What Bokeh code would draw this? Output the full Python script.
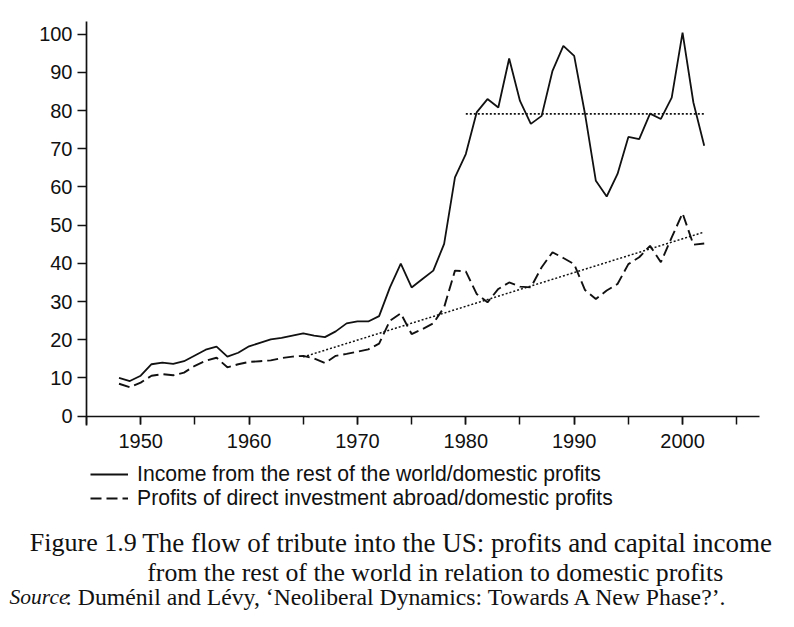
from bokeh.plotting import figure
from bokeh.models import Legend, LegendItem, Label, SingleIntervalTicker, Range1d
from bokeh.embed import file_html
from bokeh.resources import INLINE

# ---- data ----
years = list(range(1948, 2003))
income_ratio = [10.0, 9.2, 10.6, 13.6, 14.0, 13.7, 14.4, 15.9, 17.4, 18.2,
                15.6, 16.6, 18.3, 19.2, 20.1, 20.5, 21.1, 21.7, 21.1, 20.7,
                22.2, 24.3, 24.8, 24.8, 26.2, 33.7, 39.9, 33.7, 35.9, 38.1,
                45.1, 62.5, 68.6, 79.5, 83.0, 80.8, 93.6, 82.5, 76.5, 78.6,
                90.4, 96.9, 94.3, 79.1, 61.6, 57.5, 63.4, 73.1, 72.5, 79.2,
                77.8, 83.4, 100.4, 82.1, 70.8]
fdi_ratio = [8.5, 7.6, 8.8, 10.6, 11.0, 10.7, 11.4, 13.2, 14.5, 15.3,
             12.8, 13.6, 14.2, 14.4, 14.6, 15.2, 15.6, 15.8, 15.1, 13.9,
             15.8, 16.3, 16.9, 17.5, 19.0, 25.0, 26.9, 21.5, 22.8, 24.3,
             28.5, 38.1, 37.9, 32.0, 29.8, 33.3, 35.0, 33.9, 33.7, 39.0,
             42.9, 41.4, 39.8, 33.0, 30.7, 32.9, 34.6, 39.8, 41.6, 44.6,
             40.3, 46.8, 53.1, 44.9, 45.2]
mean_years = [1980, 2002]
mean_level = [79.1, 79.1]
trend_years = [1965, 2002]
trend_values = [15.5, 48.2]

x_axis_span = (1945, 2007.1)
y_axis_span = (-2.4, 103.3)
x_ticks_interval = 10
y_ticks_interval = 10

legend_labels = ["Income from the rest of the world/domestic profits",
                 "Profits of direct investment abroad/domestic profits"]
caption_num = "Figure 1.9"
caption_l1 = "The flow of tribute into the US: profits and capital income"
caption_l2 = "from the rest of the world in relation to domestic profits"
source_head = "Source"
source_rest = ": Duménil and Lévy, \u2018Neoliberal Dynamics: Towards A New Phase?\u2019."

INK = "#111111"
W, H = 794, 627
# plot area in page pixels: x 86..759, y(0) at 415.7, y(103.3) at 21
px_per_year = (759 - 86) / (x_axis_span[1] - x_axis_span[0])
px_per_unit = (415.7 - 21) / 103.3
x0 = x_axis_span[0] - 86 / px_per_year
x1 = x_axis_span[1] + (W - 759) / px_per_year
y1 = 103.3 + 21 / px_per_unit
y0 = -(H - 415.7) / px_per_unit

p = figure(width=W, height=H, min_border=0,
           x_range=Range1d(x0, x1), y_range=Range1d(y0, y1),
           output_backend="svg", toolbar_location=None)
p.outline_line_color = None
p.grid.grid_line_color = None

r_inc = p.line(years, income_ratio, line_color=INK, line_width=1.8)
r_fdi = p.line(years, fdi_ratio, line_color=INK, line_width=1.9, line_dash="11 5")
p.line(mean_years, mean_level, line_color=INK, line_width=1.7, line_dash="2 2")
p.line(trend_years, trend_values, line_color=INK, line_width=1.5, line_dash="2 2")

p.xaxis.ticker = SingleIntervalTicker(interval=x_ticks_interval, num_minor_ticks=2)
p.yaxis.ticker = SingleIntervalTicker(interval=y_ticks_interval, num_minor_ticks=0)
p.xaxis.fixed_location = 0
p.yaxis.fixed_location = x_axis_span[0]
p.xaxis.bounds = x_axis_span
p.yaxis.bounds = y_axis_span
for ax in (p.xaxis[0], p.yaxis[0]):
    ax.axis_line_color = INK
    ax.axis_line_width = 1.7
    ax.major_tick_line_color = INK
    ax.major_tick_line_width = 1.5
    ax.major_tick_in = 0
    ax.minor_tick_line_color = INK
    ax.minor_tick_line_width = 1.5
    ax.minor_tick_in = 0
    ax.major_label_text_font = "Liberation Sans"
    ax.major_label_text_font_size = "20px"
    ax.major_label_text_color = INK
p.xaxis.major_tick_out = 8
p.xaxis.minor_tick_out = 8
p.xaxis.major_label_standoff = 10
p.yaxis.major_tick_out = 9
p.yaxis.major_label_standoff = 5

legend = Legend(items=[LegendItem(label=legend_labels[0], renderers=[r_inc]),
                       LegendItem(label=legend_labels[1], renderers=[r_fdi])],
                location=(90, H - 509.7), glyph_width=38, glyph_height=20,
                label_standoff=9, label_text_font="Liberation Sans",
                label_text_font_size="21.2px", label_text_color=INK,
                padding=0, margin=0, spacing=0,
                border_line_alpha=0, background_fill_alpha=0)
p.add_layout(legend)

def lab(x, y, text, size, style="normal", align="left"):
    # x, y in page pixels from the top-left corner
    p.add_layout(Label(x=x, y=H - y, x_units="screen", y_units="screen", text=text,
                       text_font="Liberation Serif", text_font_size=size,
                       text_font_style=style, text_color=INK,
                       text_align=align, text_baseline="middle"))

lab(29.3, 542.3, caption_num, "26px")
lab(141.7, 542.3, caption_l1, "27px")
lab(146.7, 571.7, caption_l2, "25.8px")
lab(728, 596.7, source_rest, "23.7px", align="right")
lab(68, 596.7, source_head, "21.5px", style="italic", align="right")

open("out.html", "w").write(file_html(p, INLINE))
